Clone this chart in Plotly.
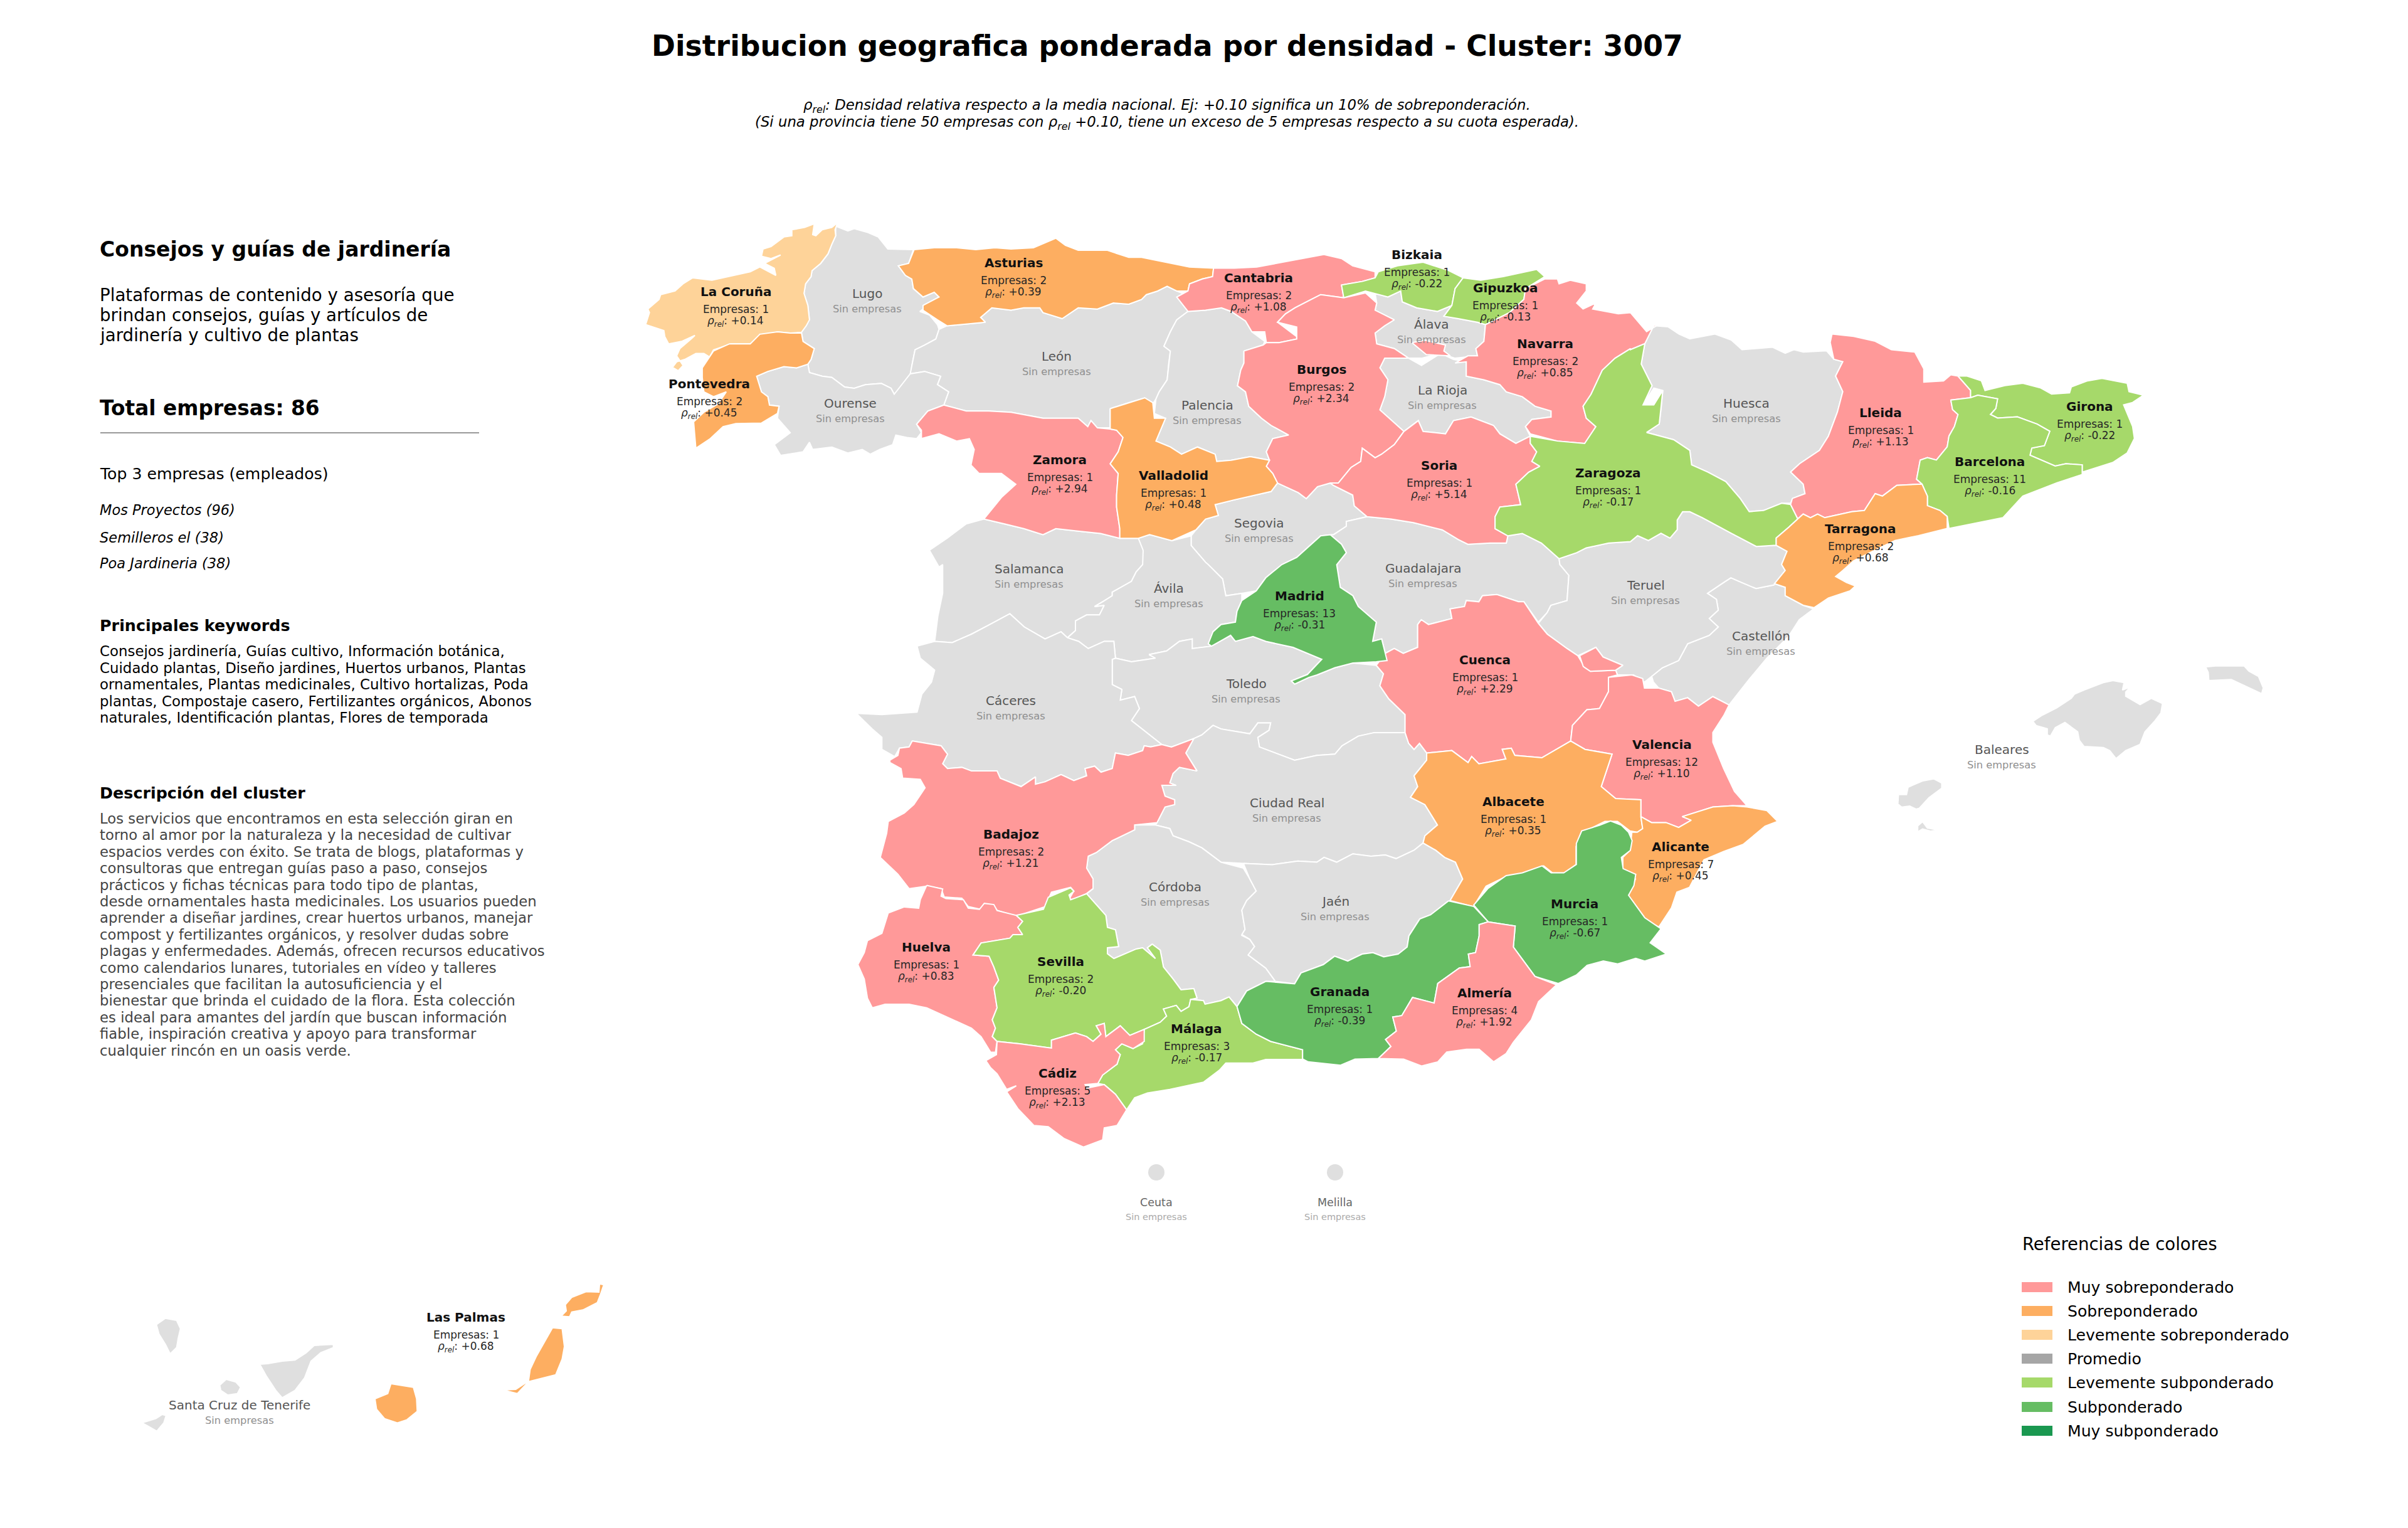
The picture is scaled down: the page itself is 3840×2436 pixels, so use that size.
import plotly.graph_objects as go

# Map sheets: outlines are digitised per sheet (origin x, origin y, scale x, scale y)
SHEETS = {
    "A": (1000, 330, 1.96, 2.613), "B": (1800, 330, 1.96, 2.613), "C": (2600, 500, 1.742, 2.613),
    "D": (1340, 900, 1.96, 2.613), "E": (2100, 900, 1.742, 2.613), "F": (1340, 1400, 1.96, 2.613),
    "G": (2000, 1300, 1.742, 2.24), "H": (2900, 1000, 1.96, 3.0), "I": (200, 2020, 1.96, 3.0),
}

CORUNA = [("A", "658,65 650,95 652,120 640,155 628,195 605,235 578,265 575,290 558,320 553,360 565,410 570,470 560,495 545,522 510,525 470,520 440,535 415,530 410,550 385,570 325,570 270,595 258,625 240,610 215,610 180,635 155,645 142,668 160,682 175,660 155,620 165,590 200,550 212,535 170,560 130,570 118,540 115,515 58,490 70,440 65,425 100,385 105,365 150,350 175,320 205,295 265,305 330,285 385,270 415,250 445,270 465,285 460,255 430,235 480,200 450,215 420,205 425,175 450,165 490,125 515,120 515,95 555,85 585,70 580,115 590,120 610,95 640,85")]
PONTEVEDRA = [("A", "545,525 550,560 585,590 575,635 565,655 530,670 490,665 440,685 405,705 420,770 440,790 445,825 475,830 470,860 420,900 340,902 300,915 260,965 215,1005 208,895 240,855 285,820 310,770 270,790 240,770 235,710 235,670 270,600 320,570 385,570 415,530 470,520 510,525")]
LUGO = [("A", "652,80 690,100 710,90 750,105 785,125 815,175 895,178 880,235 848,245 870,285 890,300 895,340 925,375 960,355 975,375 945,405 915,435 945,450 970,490 975,510 965,550 930,575 900,595 890,660 885,720 835,780 825,755 795,735 745,740 710,755 680,750 640,710 610,705 570,690 565,655 575,635 585,590 550,560 545,522 570,470 565,410 553,360 558,320 575,290 578,265 605,235 628,195 640,155 652,120")]
ASTURIAS = [("A", "897,178 960,170 1030,170 1090,178 1150,170 1200,175 1270,170 1340,130 1370,160 1410,180 1500,180 1568,210"),
            ("B", "40,210 130,235 190,250 265,255 262,290 230,300 190,320 185,350 150,350 120,330 90,350 55,365 40,385 0,405"),
            ("A", "1520,400 1470,425 1410,420 1360,465 1300,440 1290,420 1240,420 1200,430 1140,420 1105,460 1120,480 1000,495 970,470 925,430 925,410 975,375 960,355 925,375 895,340 890,300 870,285 848,245 880,235")]
LEON = [("A", "1000,495 1120,480 1105,460 1140,420 1200,430 1240,420 1290,420 1300,440 1360,465 1410,420 1470,425 1520,400 1568,405"),
        ("B", "40,385 55,365 90,350 120,330 150,350 185,370 185,435 150,470 130,520 110,580 130,600 125,650 120,720 95,770 85,800 75,820 50,795 0,815"),
        ("A", "1510,840 1510,920 1470,920 1450,890 1440,915 1410,880 1300,880 1200,855 1130,850 1060,850 990,825 1005,770 970,740 980,705 930,685 885,695 890,660 900,595 930,575 965,550 975,510")]
OURENSE = [("A", "405,705 440,685 490,665 530,670 565,655 570,690 610,705 640,710 680,750 710,755 745,740 795,735 825,755 835,780 885,695 930,685 980,705 970,740 1005,770 990,825 940,850 905,905 920,940 905,965 875,960 840,950 830,990 790,1010 760,1030 735,1010 690,1025 640,1000 580,1010 570,980 550,1020 480,1035 460,990 510,940 470,880 475,830 445,825 440,790 420,770")]
ZAMORA = [("A", "990,825 1060,850 1130,850 1200,855 1300,880 1410,880 1440,915 1450,890 1470,920 1510,925 1530,930 1550,960 1535,1020 1510,1070 1535,1110 1530,1200 1530,1250 1540,1340 1540,1380 1480,1360 1410,1350 1340,1340 1300,1365 1240,1340 1180,1320 1115,1300 1170,1210 1215,1155 1170,1110 1100,1110 1075,1075 1085,1010 1070,965 1030,975 975,945 920,965 920,930 905,905 940,850")]
VALLADOLID = [("B", "-58,840 0,815 50,795 75,815 80,880 115,880 85,975 130,1000 165,1030 215,1000 270,1030 275,1060 320,1055 380,1040 440,1055 430,1080 450,1110 465,1150 445,1185 330,1220 270,1240 280,1285 240,1300 210,1345 135,1390 65,1365 30,1380 -28,1380 -28,1340 -38,1250 -38,1200 -33,1110 -58,1070 -33,1020 -18,960 -38,930 -58,925")]
PALENCIA = [("B", "185,435 240,430 290,420 320,435 365,475 385,520 425,560 420,575 360,600 360,650 350,680 340,745 365,770 375,830 415,880 445,910 500,950 450,965 430,1020 440,1055 380,1040 320,1055 275,1060 270,1030 215,1000 165,1030 130,1000 85,975 115,880 80,860 85,800 95,770 120,720 125,650 130,600 110,580 130,520 150,470")]
CANTABRIA = [("B", "265,255 330,255 400,250 500,225 610,198 665,215 700,245 770,270 770,295 730,310 665,325 672,378 600,365 570,385 520,420 490,445 465,480 525,540 525,550 470,565 430,565 425,520 385,520 365,475 320,435 290,420 240,430 185,435 150,375 185,350 190,320 230,300 262,290")]
BURGOS = [("B", "360,600 420,575 430,565 470,565 525,550 525,500 465,480 490,445 520,420 570,385 600,365 672,378 740,358 775,400 770,430 830,470 800,495 770,525 775,570 830,590 875,630 800,630 785,670 810,720 800,790 785,845 860,935 830,990 790,1030 770,1045 730,1005 725,1060 695,1085 655,1150 630,1150 590,1165 555,1215 530,1190 465,1150 450,1110 430,1080 440,1055 430,1020 450,965 500,950 445,910 415,880 375,830 365,770 340,745 350,680 360,650"),
          ("|", ""), ("B", "885,565 925,555 990,575 985,600 1005,620 930,615")]
BIZKAIA = [("B", "665,325 730,310 770,295 780,270 840,245 920,230 1000,265 1045,295 1020,340 1010,410 965,435 900,420 855,395 850,350 810,375 770,360 740,350 672,378")]
GIPUZKOA = [("B", "1045,295 1100,305 1170,290 1275,260 1300,290 1240,340 1235,385 1190,440 1115,490 1090,480 1030,465 985,455 1010,410 1020,340")]
ALAVA = [("B", "770,360 810,375 850,350 855,395 900,420 965,435 1010,410 985,455 1030,465 1090,480 1115,490 1110,560 1085,590 1090,620 1020,630 975,610 915,630 875,630 830,590 775,570 770,525 725,505 755,475 790,485 830,470 770,430 775,400")]
RIOJA = [("B", "800,630 875,630 915,660 945,635 975,610 1015,635 1055,645 1055,705 1110,720 1160,740 1180,770 1230,790 1270,830 1320,850 1320,875 1260,885 1240,915 1255,955 1210,985 1160,945 1140,910 1070,875 1015,890 990,945 920,935 905,890 860,935 785,845 800,790 810,720 785,670")]
NAVARRA = [("B", "1240,340 1300,300 1340,300 1345,320 1380,305 1430,320 1430,350 1400,400 1420,425 1460,400 1450,425 1530,445 1568,440"),
           ("C", "45,75 90,35 65,50 40,125 0,150"),
           ("B", "1568,590 1520,630 1480,680 1445,780 1420,830 1430,880 1460,915 1425,985 1340,975 1255,945 1240,915 1260,885 1320,875 1320,850 1270,830 1230,790 1180,770 1160,740 1110,720 1055,705 1055,645 1020,650 1060,620 1090,620 1085,590 1110,560 1115,490 1190,440 1235,385")]
SORIA = [("B", "860,935 905,890 920,935 990,945 1015,890 1070,875 1140,910 1160,945 1210,985 1255,955 1255,985 1275,1020 1260,1060 1285,1080 1250,1105 1210,1155 1225,1240 1160,1250 1145,1290 1145,1340 1185,1370 1180,1400 1130,1400 1060,1405 1030,1385 980,1345 890,1315 820,1300 745,1290 705,1245 700,1200 640,1160 630,1150 655,1150 695,1085 725,1060 730,1005 770,1045 790,1030 830,990")]
ZARAGOZA = [("B", "1255,955 1340,975 1425,985 1460,915 1430,880 1420,830 1445,780 1480,680 1520,630 1568,590"),
            ("C", "0,150 40,125 30,210 60,300 35,380 65,380 90,320 85,400 80,460 45,495 120,525 165,570 170,630 215,660 265,700 305,770 330,825 370,820 420,790 445,795 465,855 440,890 405,935 405,965 350,970 280,915 200,850 165,825 145,825 130,860 130,900 110,935 85,915 50,945 20,925 0,950"),
            ("B", "1500,1400 1430,1420 1400,1440 1345,1465 1290,1400 1230,1360 1185,1370 1145,1340 1145,1290 1160,1250 1225,1240 1210,1155 1250,1105 1285,1080 1260,1060 1275,1020 1255,985")]
HUESCA = [("C", "65,50 105,55 135,85 165,105 235,85 280,110 310,150 395,140 430,165 455,150 480,160 545,155 565,190 590,200 570,260 590,325 575,410 550,510 525,570 470,625 445,660 480,710 485,750 450,770 445,790 420,790 370,820 330,825 305,770 265,700 215,660 170,630 165,570 120,525 45,495 80,460 85,400 90,320 65,310 35,380 60,300 30,210 40,125")]
LLEIDA = [("C", "560,85 620,95 680,115 725,150 790,160 815,230 815,285 870,280 890,255 910,260 945,320 945,350 890,360 895,400 910,420 900,470 885,510 880,555 850,610 825,600 805,610 800,650 795,690 810,710 740,715 700,760 680,750 650,820 615,825 540,850 520,835 500,850 480,835 465,855 445,795 450,770 485,750 480,710 445,660 470,625 525,570 550,510 575,410 590,325 570,260 590,200 565,190 555,120")]
GIRONA = [("C", "910,260 935,260 975,280 985,320 1040,300 1090,290 1140,310 1170,335 1220,330 1225,305 1270,280 1310,270 1380,290 1385,325 1425,340 1395,370 1370,380 1395,470 1400,520 1380,580 1340,620 1255,660 1255,630 1210,625 1180,635 1110,590 1115,560 1150,550 1165,490 1130,460 1075,430 1020,435 1000,420 1015,395 1020,355 965,340 945,350 945,320")]
BARCELONA = [("C", "890,360 945,350 965,340 1020,355 1015,395 1000,420 1020,435 1075,430 1130,460 1165,490 1150,550 1115,560 1110,590 1180,635 1210,625 1255,630 1255,670 1185,705 1090,760 1035,850 885,895 880,845 860,820 825,800 825,760 810,710 795,690 800,650 805,610 825,600 850,610 880,555 885,510 900,470 910,420 895,400")]
TARRAGONA = [("C", "465,855 480,835 500,850 520,835 540,850 615,825 650,820 680,750 700,760 740,715 810,710 825,760 825,800 860,820 880,845 880,895 800,925 735,945 680,985 620,1030 590,1070 570,1095 600,1120 625,1135 610,1155 550,1185 510,1225 480,1215 430,1175 430,1140 400,1125 430,1070 420,1045 435,990 405,965 405,935 440,890")]
TERUEL = [("B", "1345,1465"),
          ("E", "675,0 700,45 695,150 650,170 640,200 615,245 640,290 695,350 725,380 775,345 795,385 850,420 830,440 835,460 880,460 910,490 930,465 960,430 1005,400 1030,330 1090,295 1115,260 1090,225 1115,190 1110,145 1085,120 1130,75 1150,55 1180,75 1220,100 1270,85"),
          ("C", "430,1070 420,1045 435,990 405,965 350,970 280,915 200,850 165,825 145,825 130,860 130,900 110,935 85,915 50,945 20,925 0,950"),
          ("B", "1500,1400 1430,1420 1400,1440")]
CASTELLON = [("E", "1270,85 1220,100 1180,75 1150,55 1130,75 1085,120 1110,145 1115,190 1090,225 1115,260 1090,295 1030,330 1005,400 960,430 930,465 935,490 950,515 985,530 995,570 1030,555 1060,590 1100,550 1145,585 1200,480 1250,390 1310,300 1340,230 1380,185"),
             ("C", "480,1215 430,1175 430,1140 400,1125")]
VALENCIA = [("E", "810,470 875,460 905,475 910,515 950,515 985,530 995,570 1030,555 1060,590 1100,550 1145,585 1130,630 1100,700 1100,740 1130,850 1160,945 1195,1005 1155,1005 1100,1010 1015,1050 1040,1065 1005,1095 970,1075 930,1075 900,1050 900,980 830,975 790,925 820,790 745,770 705,735 710,670 750,605 785,600 810,530"),
            ("|", ""), ("E", "730,380 775,345 795,385 850,420 830,440 760,445 740,425")]
CUENCA = [("E", "165,420 190,370 215,350 240,370 280,345 280,250 290,230 310,250 375,225 370,185 410,175 415,150 450,155 460,130 500,125 560,155 575,155 615,245 640,290 695,350 725,380 745,430 760,445 830,440 835,460 810,470 810,530 785,600 750,605 710,670 705,735 625,805 550,795 540,765 515,770 525,810 450,830 430,800 420,825 375,775 305,785 285,745 270,770 255,745 245,700 245,625 200,560 175,505 185,455")]
ALBACETE = [("E", "305,785 375,775 420,825 430,800 450,830 525,810 515,770 540,765 550,795 625,805 705,735 745,770 820,790 790,925 830,975 900,980 900,1050 905,1100 890,1115 870,1110 835,1070 800,1070 760,1100 735,1115 720,1175 720,1250 690,1285 655,1285 630,1255 580,1285 525,1300 470,1340 435,1425 370,1400 405,1310 385,1240 355,1220 330,1190 295,1160 300,1130 335,1085 300,1000 260,970 280,925 270,880 305,815")]
ALICANTE = [("E", "900,1050 930,1075 970,1075 1005,1095 1040,1065 1015,1050 1100,1010 1155,1005 1195,1010 1250,1025 1280,1070 1245,1090 1185,1165 1130,1195 1075,1230 1050,1300 1035,1345 1000,1365 985,1430 950,1510 900,1470 865,1380 885,1310 850,1270 850,1220 870,1190 875,1115 890,1115 905,1100")]
MURCIA = [("G", "1040,60 1050,90 1045,125 1020,150 1025,190 1060,210 1055,250 1040,285 1085,365 1130,405 1100,455 1145,495 1085,520 1060,510 1010,530 970,520 925,535 895,570 845,600 780,575 720,470 725,395 650,380 610,320 650,260 700,215 745,205 800,180 825,205 860,205 895,175 895,100 910,55 960,35 990,20 1020,35")]
ALMERIA = [("G", "650,380 725,395 720,470 780,575 840,605 790,665 770,730 720,810 700,850 665,880 625,835 590,835 535,845 510,880 465,895 415,870 345,868 380,825 365,800 395,770 385,720 410,715 440,650 500,670 510,600 570,545 600,540 595,495 615,490 625,430 625,390")]
GRANADA = [("G", "540,305 610,325 650,380 625,390 625,430 615,490 595,495 600,540 570,545 510,600 500,670 440,650 410,715 385,720 395,770 365,800 380,825 345,868 280,870 240,892 150,880 135,870"),
           ("F", "1445,760 1445,715 1345,680 1300,650 1255,605 1240,535 1270,470 1330,430 1420,440 1440,395 1510,360 1545,325"),
           ("G", "260,520 300,495 330,490 360,505 400,495 425,470 430,430 460,370 490,355")]
MALAGA = [("F", "1240,535 1255,605 1300,650 1345,680 1445,715 1445,755 1400,755 1330,755 1290,770 1205,770 1185,800 1135,850 1030,880 960,895 920,915 895,965 860,900 825,860 805,855 820,820 865,775 875,735 860,715 880,690 915,710 945,690 950,630 1000,600 1020,575 1010,545 1050,530 1065,555 1090,535 1095,505 1135,510 1140,525 1190,510 1215,495")]
SEVILLA = [("F", "550,155 635,130 650,80 720,40 730,55 715,70 720,90 770,65 800,110 830,155 835,205 860,215 870,285 835,290 835,315 855,335 925,295 945,290 985,335 960,290 975,275 1000,300 1010,370 1040,420 1065,465 1105,460 1115,500 1095,505 1090,535 1065,555 1050,530 1010,545 1020,575 1000,600 950,630 905,655 875,615 830,660 825,605 800,615 815,650 790,680 770,660 735,645 660,675 660,708 560,690 490,680 475,660 485,625 475,590 490,540 480,455 495,425 480,370 465,325 415,320 440,270 530,250 540,235 570,235 555,205 570,180")]
HUELVA = [("F", "270,30 320,45 315,75 330,85 385,90 400,125 435,130 450,105 480,110 490,135 550,155 570,180 555,205 570,235 540,235 530,250 440,270 415,320 465,325 480,370 495,425 480,455 490,540 475,590 485,625 475,660 490,680 485,725 470,725 440,660 410,625 320,570 270,540 215,525 140,525 100,540 85,500 75,420 55,360 75,310 85,260 130,230 150,145 200,120 245,125 250,90")]
CADIZ = [("F", "490,680 560,690 660,708 660,675 735,645 770,660 790,680 815,650 800,615 825,605 830,660 875,615 905,655 950,630 950,680 915,710 880,690 860,715 875,735 865,775 820,820 805,855 765,860 770,875 825,860 860,900 895,965 865,1030 825,1040 820,1090 760,1120 700,1085 650,1035 605,1030 555,960 520,890 550,865 520,880 490,815 470,790 455,760 488,735")]
BADAJOZ = [("D", "225,735 315,755 335,790 320,830 335,850 380,845 410,860 490,860 500,890 565,925 610,885 610,915 640,905 690,875 730,900 770,880 765,850 795,840 815,865 850,850 860,785 900,795 945,775 950,755 970,760 1005,750 1035,760 1105,725 1080,785 1115,860 1060,845 1040,870 1030,910 1050,920 1005,920 1015,965 1045,980 1045,1000 1015,1010 990,1075 920,1085 920,1105 850,1150 800,1200 775,1215 770,1265 790,1310 790,1350 770,1370 730,1395 715,1395 730,1360 720,1345 660,1365 640,1425 550,1465 490,1440 480,1420 450,1420 435,1435 400,1425 380,1390 325,1385 315,1350 270,1340 215,1350 180,1290 125,1220 145,1120 150,1070 200,1035 230,1000 265,930 250,895 195,890 190,850 155,825 155,815 180,795 185,765 215,760")]
CACERES = [("D", "240,340 295,320 350,325 410,290 460,255 530,205 575,260 640,310 690,280 710,305 745,320 775,350 825,320 855,320 860,390 850,395 850,500 880,520 875,565 920,550 935,600 910,650 1005,750 970,760 950,755 945,775 900,795 860,785 850,850 815,865 795,840 765,850 770,880 730,900 690,875 640,905 610,915 610,885 565,925 500,890 490,860 410,860 380,845 335,850 320,830 335,790 315,755 225,735 215,760 185,765 170,800 130,770 130,720 100,685 50,620 130,625 240,615 255,540 285,490 295,440 250,390")]
SALAMANCA = [("A", "1115,1300 1180,1320 1240,1340 1300,1365 1340,1340 1410,1350 1480,1360 1540,1380"),
             ("B", "30,1380 50,1430 45,1490"),
             ("D", "925,30 910,70 850,115 850,130 820,155 795,175 825,170 810,210 770,210 735,235 735,275 710,305 690,280 640,310 575,260 530,205 460,255 410,290 350,325 295,320 305,215 320,120 320,0"),
             ("A", "975,1500 945,1430 1000,1380 1060,1320")]
AVILA = [("B", "45,1430 30,1380 65,1365 135,1390 195,1370 195,1410 240,1480"),
         ("D", "1150,0 1195,60 1205,130 1255,120 1255,150 1240,195 1235,240 1190,250 1165,280 1160,340 1100,350 1100,310 1060,320 1020,360 965,375 985,390 910,405 860,390 855,320 825,320 775,350 745,320 710,305 735,275 735,235 770,210 810,210 825,170 795,175 820,155 850,130 850,115 910,70 925,30 945,0")]
SEGOVIA = [("B", "270,1240 330,1220 445,1185 465,1150 530,1190 555,1215 590,1165 630,1150 640,1160 700,1200 705,1245 745,1290 680,1310 680,1330 640,1365 600,1370 525,1460 480,1490"),
           ("D", "1330,55 1300,110 1255,120 1205,130 1195,60 1150,0"),
           ("B", "240,1480 195,1410 195,1370 210,1345 240,1300 280,1285")]
MADRID = [("B", "630,1365 665,1405 680,1440 650,1490"),
          ("E", "65,95 100,130 115,175 165,240 155,320 180,310 195,400 165,405 100,410 50,430"),
          ("D", "1490,460 1465,470 1420,498 1410,485 1460,458 1505,395 1415,345 1330,320 1290,300 1235,320 1220,295 1160,340 1150,330 1165,280 1190,250 1235,240 1240,195 1255,150 1300,110 1330,55 1380,0"),
          ("B", "525,1460 600,1370")]
GUADALAJARA = [("B", "745,1290 820,1300 890,1315 980,1345 1030,1385 1060,1405 1130,1400 1180,1400 1185,1370 1230,1360 1290,1400 1345,1465"),
               ("E", "675,0 700,45 695,150 650,170 640,200 615,240 575,155 560,155 500,125 460,130 450,155 415,150 410,175 370,185 375,225 310,250 290,230 280,250 280,345 240,370 215,350 190,370 180,310 155,320 165,240 115,175 100,130 65,95"),
               ("B", "650,1490 680,1440 665,1405 630,1365 640,1365 680,1330 680,1310")]
TOLEDO = [("D", "860,390 910,405 985,390 965,375 1020,360 1060,320 1100,310 1100,350 1160,340 1220,295 1235,320 1290,300 1330,320 1415,345 1505,395 1460,458 1410,485 1420,498 1465,470 1490,460"),
          ("E", "50,430 100,410 165,420 185,455 175,505 200,560 245,625 245,700 160,700 115,715 70,755 50,790 0,795"),
          ("D", "1420,815 1370,790 1310,760 1305,720 1340,690 1345,660 1305,660 1280,705 1190,685 1165,670 1130,710 1105,725 1035,760 1005,750 910,650 935,600 920,550 875,565 880,520 850,500 850,395")]
CIUDADREAL = [("D", "1105,725 1130,710 1165,670 1190,685 1280,705 1305,660 1345,660 1340,690 1305,720 1310,760 1370,790 1420,815"),
              ("E", "0,795 50,790 70,755 115,715 160,700 245,700 255,745 270,770 285,745 305,785 305,815 270,880 280,925 260,970 300,1000 335,1085 300,1130 295,1160 270,1190 220,1225 190,1210 150,1215 100,1205 55,1240 20,1220 0,1240"),
              ("D", "1430,1235 1350,1250 1260,1245 1190,1240 1130,1180 1090,1155 1040,1130 1030,1100 985,1085 990,1075 1015,1010 1045,1000 1045,980 1015,965 1005,920 1050,920 1030,910 1040,870 1060,845 1115,860 1080,785")]
CORDOBA = [("D", "985,1085 1030,1100 1040,1130 1090,1155 1130,1180 1190,1240 1260,1265 1280,1310 1300,1360 1270,1400 1255,1440 1265,1520 1255,1545"),
           ("F", "1280,255 1295,285 1275,320 1330,375 1360,430 1330,430 1270,470 1240,535 1215,495 1190,510 1140,525 1135,510 1095,505 1115,500 1105,460 1065,465 1040,420 1010,370 1000,300 975,275 960,290 985,335 945,290 925,295 855,335 835,315 835,290 870,285 860,215 835,205 830,155 800,110 770,65"),
           ("D", "790,1350 790,1310 770,1265 775,1215 800,1200 850,1150 920,1105 920,1085")]
JAEN = [("D", "1260,1245 1350,1250 1430,1235"),
        ("E", "0,1240 20,1220 55,1240 100,1205 150,1215 190,1210 220,1225 270,1190 295,1160 330,1190 355,1220 385,1240 405,1310 370,1400"),
        ("G", "490,355 460,370 430,430 425,470 400,495 360,505 330,490 300,495 260,520"),
        ("F", "1545,325 1510,360 1440,395 1420,440 1360,430 1330,375 1275,320 1295,285 1280,255 1255,235"),
        ("D", "1265,1520 1255,1440 1270,1400 1300,1360 1280,1310")]
BALEARES = [("H", "670,450 700,420 745,385 790,340 800,320 830,300 890,265 920,255 955,265 950,300 975,285 960,310 960,330 1005,370 1040,340 1075,365 1070,410 1050,450 1020,500 1005,560 960,590 930,628 910,590 890,575 830,570 815,540 810,500 770,455 740,480 725,520 715,515 715,485 680,470"),
            ("|", ""), ("H", "1210,190 1240,185 1330,185 1345,210 1375,235 1390,290 1385,318 1340,285 1290,250 1220,255 1218,215"),
            ("|", ""), ("H", "250,800 275,800 280,765 325,735 360,725 385,745 385,770 345,815 315,865 305,870 285,855 260,860 248,845"),
            ("|", ""), ("H", "310,950 325,930 340,960 375,970 350,975 325,965 310,978")]
TENERIFE = [("I", "97,275 125,245 160,255 172,295 165,340 160,385 140,415 125,370 105,320"),
            ("|", ""), ("I", "420,465 445,462 490,450 530,445 565,410 590,375 650,370 650,385 610,410 580,450 560,530 530,590 490,625 470,590 440,520"),
            ("|", ""), ("I", "295,565 315,537 345,550 360,575 350,605 320,612 298,590"),
            ("|", ""), ("I", "52,745 95,725 115,705 127,710 120,745 98,785 70,760")]
LASPALMAS = [("I", "780,630 820,605 830,558 860,565 900,575 910,630 912,690 880,730 850,745 810,725 785,680"),
             ("|", ""), ("I", "1180,588 1220,585 1260,545 1265,490 1285,425 1325,320 1335,290 1365,295 1372,380 1365,440 1345,515 1260,548 1225,605"),
             ("|", ""), ("I", "1362,235 1378,210 1375,180 1395,145 1440,118 1480,120 1482,80 1495,85 1485,130 1475,170 1430,205 1395,215 1388,238")]

# Province table: name, label position, companies, relative density (None = no companies)
NAMES = ["La Coruña", "Lugo", "Asturias", "León", "Ourense", "Pontevedra", "Zamora", "Salamanca", "Cantabria", "Bizkaia",
         "Gipuzkoa", "Navarra", "Álava", "Burgos", "La Rioja", "Palencia", "Soria", "Valladolid", "Segovia", "Guadalajara",
         "Zaragoza", "Huesca", "Lleida", "Girona", "Barcelona", "Tarragona", "Castellón", "Teruel", "Cuenca", "Valencia",
         "Albacete", "Alicante", "Madrid", "Ávila", "Toledo", "Cáceres", "Ciudad Real", "Badajoz", "Córdoba", "Huelva",
         "Sevilla", "Málaga", "Cádiz", "Jaén", "Murcia", "Granada", "Almería", "Baleares", "Santa Cruz de Tenerife", "Las Palmas"]
OUTLINES = [CORUNA, LUGO, ASTURIAS, LEON, OURENSE, PONTEVEDRA, ZAMORA, SALAMANCA, CANTABRIA, BIZKAIA,
            GIPUZKOA, NAVARRA, ALAVA, BURGOS, RIOJA, PALENCIA, SORIA, VALLADOLID, SEGOVIA, GUADALAJARA,
            ZARAGOZA, HUESCA, LLEIDA, GIRONA, BARCELONA, TARRAGONA, CASTELLON, TERUEL, CUENCA, VALENCIA,
            ALBACETE, ALICANTE, MADRID, AVILA, TOLEDO, CACERES, CIUDADREAL, BADAJOZ, CORDOBA, HUELVA,
            SEVILLA, MALAGA, CADIZ, JAEN, MURCIA, GRANADA, ALMERIA, BALEARES, TENERIFE, LASPALMAS]
EMPRESAS = [1, 0, 2, 0, 0, 2, 1, 0, 2, 1, 1, 2, 0, 2, 0, 0, 1, 1, 0, 0,
            1, 0, 1, 1, 11, 2, 0, 0, 1, 12, 1, 7, 13, 0, 0, 0, 0, 2, 0, 1,
            2, 3, 5, 0, 1, 1, 4, 0, 0, 1]
RHO = [0.14, None, 0.39, None, None, 0.45, 2.94, None, 1.08, -0.22,
       -0.13, 0.85, None, 2.34, None, None, 5.14, 0.48, None, None,
       -0.17, None, 1.13, -0.22, -0.16, 0.68, None, None, 2.29, 1.10,
       0.35, 0.45, -0.31, None, None, None, None, 1.21, None, 0.83,
       -0.20, -0.17, 2.13, None, -0.67, -0.39, 1.92, None, None, 0.68]
LABEL_X = [1173, 1383, 1616, 1685, 1356, 1131, 1690, 1641, 2007, 2259,
           2400, 2464, 2283, 2107, 2300, 1925, 2295, 1871, 2008, 2269,
           2564, 2785, 2999, 3332, 3173, 2967, 2808, 2624, 2368, 2650,
           2413, 2680, 2072, 1864, 1987, 1612, 2052, 1612, 1874, 1477,
           1691, 1908, 1686, 2129, 2511, 2136, 2367, 3192, 382, 743]
LABEL_Y = [465, 468, 419, 568, 643, 612, 733, 907, 443, 406,
           459, 548, 517, 589, 622, 646, 742, 758, 834, 906,
           754, 643, 658, 648, 736, 843, 1014, 933, 1052, 1187,
           1278, 1350, 950, 938, 1090, 1117, 1280, 1330, 1414, 1510,
           1533, 1640, 1711, 1437, 1441, 1581, 1583, 1195, 2240, 2100]

CITY_NAMES = ["Ceuta", "Melilla"]
CITY_X = [1844, 2129]
CITY_Y = [1869, 1869]
CITY_LABEL_Y = [1917, 1917]

LEGEND_LABELS = ["Muy sobreponderado", "Sobreponderado", "Levemente sobreponderado", "Promedio",
                 "Levemente subponderado", "Subponderado", "Muy subponderado"]
LEGEND_COLORS = ["#FF9999", "#FDAE61", "#FED399", "#A6A6A6", "#A6D96A", "#66BD63", "#1A9850"]
LEGEND_Y = [2052, 2090, 2128, 2166, 2204, 2243, 2281]
NO_DATA = "#DFDFDF"

TITLE = "Distribucion geografica ponderada por densidad - Cluster: 3007"
NOTE = ["ρ<sub>rel</sub>: Densidad relativa respecto a la media nacional. Ej: +0.10 significa un 10% de sobreponderación.",
        "(Si una provincia tiene 50 empresas con ρ<sub>rel</sub> +0.10, tiene un exceso de 5 empresas respecto a su cuota esperada)."]
CLUSTER_NAME = "Consejos y guías de jardinería"
CLUSTER_SUB = ["Plataformas de contenido y asesoría que", "brindan consejos, guías y artículos de", "jardinería y cultivo de plantas"]
TOP3 = ["Mos Proyectos (96)", "Semilleros el (38)", "Poa Jardineria (38)"]
KEYWORDS = ["Consejos jardinería, Guías cultivo, Información botánica,",
            "Cuidado plantas, Diseño jardines, Huertos urbanos, Plantas",
            "ornamentales, Plantas medicinales, Cultivo hortalizas, Poda",
            "plantas, Compostaje casero, Fertilizantes orgánicos, Abonos",
            "naturales, Identificación plantas, Flores de temporada"]
DESCRIPTION = ["Los servicios que encontramos en esta selección giran en",
               "torno al amor por la naturaleza y la necesidad de cultivar",
               "espacios verdes con éxito. Se trata de blogs, plataformas y",
               "consultoras que entregan guías paso a paso, consejos",
               "prácticos y fichas técnicas para todo tipo de plantas,",
               "desde ornamentales hasta medicinales. Los usuarios pueden",
               "aprender a diseñar jardines, crear huertos urbanos, manejar",
               "compost y fertilizantes orgánicos, y resolver dudas sobre",
               "plagas y enfermedades. Además, ofrecen recursos educativos",
               "como calendarios lunares, tutoriales en vídeo y talleres",
               "presenciales que facilitan la autosuficiencia y el",
               "bienestar que brinda el cuidado de la flora. Esta colección",
               "es ideal para amantes del jardín que buscan información",
               "fiable, inspiración creativa y apoyo para transformar",
               "cualquier rincón en un oasis verde."]

FONT = "DejaVu Sans"


def outline_xy(chunks):
    xs, ys, first = [], [], None
    for sheet, text in chunks:
        if sheet == "|":
            xs += [first[0], None]
            ys += [first[1], None]
            first = None
            continue
        x0, y0, sx, sy = SHEETS[sheet]
        for pair in text.split():
            a, b = pair.split(",")
            p = (x0 + float(a) / sx, y0 + float(b) / sy)
            if first is None:
                first = p
            xs.append(p[0])
            ys.append(p[1])
    xs.append(first[0])
    ys.append(first[1])
    return xs, ys


def band(r):
    if r is None:
        return NO_DATA
    if r >= 0.7:
        return LEGEND_COLORS[0]
    if r >= 0.3:
        return LEGEND_COLORS[1]
    if r >= 0.1:
        return LEGEND_COLORS[2]
    if r > -0.1:
        return LEGEND_COLORS[3]
    if r > -0.3:
        return LEGEND_COLORS[4]
    if r > -0.7:
        return LEGEND_COLORS[5]
    return LEGEND_COLORS[6]


fig = go.Figure()
anns = []


def text(x, y, s, size, color="#000000", anchor="center", bold=False, italic=False):
    anns.append(dict(x=x, y=y, xref="x", yref="y", text=s, showarrow=False, xanchor=anchor, yanchor="middle",
                     borderpad=0, font=dict(family=FONT, size=size, color=color,
                                            weight="bold" if bold else "normal",
                                            style="italic" if italic else "normal")))


order = sorted(range(len(NAMES)), key=lambda i: RHO[i] is not None)
for i in order:
    xs, ys = outline_xy(OUTLINES[i])
    fig.add_trace(go.Scatter(x=xs, y=ys, mode="lines", fill="toself", fillcolor=band(RHO[i]),
                             line=dict(color="white", width=2), name=NAMES[i], hoverinfo="name", showlegend=False))

fig.add_trace(go.Scatter(x=CITY_X, y=CITY_Y, mode="markers", marker=dict(size=26, color=NO_DATA),
                         text=CITY_NAMES, hoverinfo="text", showlegend=False))

for i, name in enumerate(NAMES):
    x, y = LABEL_X[i], LABEL_Y[i]
    if RHO[i] is None:
        text(x, y, name, 20, "#555555")
        text(x, y + 24, "Sin empresas", 16.25, "#8f8f8f")
    else:
        text(x, y, name, 20, "#111111", bold=True)
        text(x, y + 28, f"Empresas: {EMPRESAS[i]}", 17, "#262626")
        text(x, y + 47, f"<i>ρ<sub>rel</sub></i>: {RHO[i]:+.2f}", 17, "#262626")
for name, x, y in zip(CITY_NAMES, CITY_X, CITY_LABEL_Y):
    text(x, y, name, 17.5, "#666666")
    text(x, y + 23, "Sin empresas", 14.5, "#aaaaaa")

text(1861, 73, TITLE, 45.7, bold=True)
text(1861, 169, NOTE[0], 22.8, italic=True)
text(1861, 196, NOTE[1], 22.8, italic=True)

L = 158
text(L, 397, CLUSTER_NAME, 33, anchor="left", bold=True)
for s, y in zip(CLUSTER_SUB, [470, 502, 534]):
    text(L, y, s, 27.7, anchor="left")
text(L, 651, "Total empresas: 86", 32.8, anchor="left", bold=True)
text(L, 755, "Top 3 empresas (empleados)", 25.2, anchor="left")
for s, y in zip(TOP3, [813, 857, 898]):
    text(L, y, s, 22.5, anchor="left", italic=True)
text(L, 997, "Principales keywords", 25.4, anchor="left", bold=True)
for k, s in enumerate(KEYWORDS):
    text(L, 1038 + k * 26.6, s, 22.9, anchor="left")
text(L, 1264, "Descripción del cluster", 25.4, anchor="left", bold=True)
for k, s in enumerate(DESCRIPTION):
    text(L, 1305 + k * 26.4, s, 22.8, "#444444", anchor="left")

text(3224, 1983, "Referencias de colores", 27.5, anchor="left")
shapes = [dict(type="line", xref="x", yref="y", x0=160, x1=764, y0=690, y1=690, line=dict(color="#999999", width=2))]
for lab, col, y in zip(LEGEND_LABELS, LEGEND_COLORS, LEGEND_Y):
    shapes.append(dict(type="rect", xref="x", yref="y", x0=3224, x1=3273, y0=y - 8, y1=y + 8, fillcolor=col, line_width=0))
    text(3296, y, lab, 25.1, anchor="left")

fig.update_layout(width=3840, height=2436, margin=dict(l=0, r=0, t=0, b=0), paper_bgcolor="white", plot_bgcolor="white",
                  xaxis=dict(range=[0, 3840], visible=False, fixedrange=True),
                  yaxis=dict(range=[2436, 0], visible=False, fixedrange=True),
                  annotations=anns, shapes=shapes, showlegend=False)
fig.write_html("out.html", config={"displayModeBar": False},
               post_script="document.body.style.margin='0';")
